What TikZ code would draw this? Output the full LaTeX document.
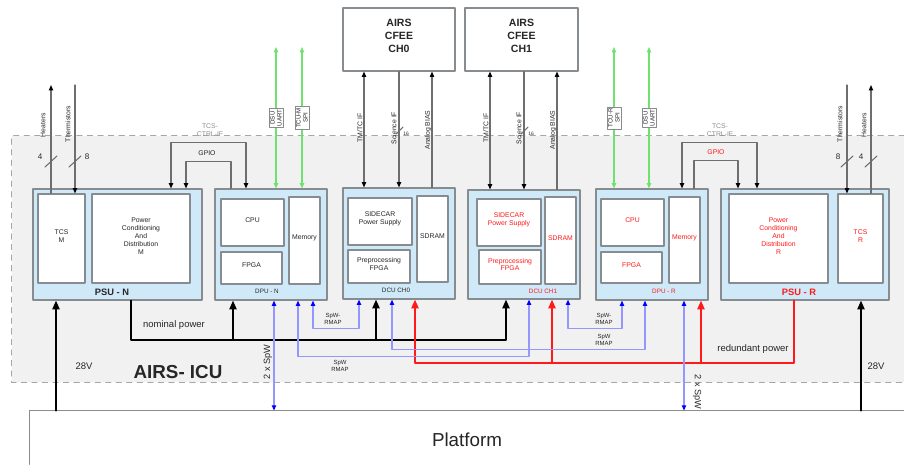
\documentclass[tikz,border=0pt]{standalone}
\usepackage{fontspec}
\setmainfont{Liberation Sans}
\usetikzlibrary{arrows.meta,fit,positioning}

\definecolor{unitblue}{RGB}{207,233,248}
\definecolor{icugray}{RGB}{241,241,241}
\definecolor{rimgray}{RGB}{135,140,145}
\definecolor{wiregray}{RGB}{110,110,110}
\definecolor{spwblue}{RGB}{150,150,255}
\definecolor{linkgreen}{RGB}{110,225,110}
\definecolor{redunt}{RGB}{255,25,25}

\newcommand{\tinyfont}{\fontsize{3.9}{4.5}\selectfont}
\newcommand{\midfont}{\fontsize{5.4}{6.4}\selectfont}

\begin{document}
\begin{tikzpicture}[x=0.02cm, y=-0.02cm, font=\tinyfont, text=black!85, line cap=round, line join=round,
  unit/.style={draw=rimgray, fill=unitblue, line width=0.6pt, inner sep=0pt},
  part/.style={draw=rimgray, fill=white, line width=0.6pt, inner sep=0pt, align=center},
  redpart/.style={part, text=redunt},
  unitname/.style={font=\fontsize{3.6}{4}\selectfont},
  sig/.style={draw=wiregray, line width=0.6pt, >={Triangle[length=3pt,width=2.4pt,color=black]}},
  uart/.style={draw=linkgreen, line width=0.6pt, >={Triangle[length=3pt,width=2.4pt,color=linkgreen]}},
  iflabel/.style={draw=rimgray, fill=white, line width=0.4pt, rotate=90, align=center, inner sep=0.8pt, font=\fontsize{3.5}{4}\selectfont},
  spw/.style={draw=spwblue, line width=0.7pt, >={Triangle[length=3pt,width=2.4pt,color=blue]}},
  pwr/.style={draw=black, line width=1.1pt, >={Triangle[length=5pt,width=4pt]}},
  rpwr/.style={draw=redunt, line width=1.1pt, >={Triangle[length=5pt,width=4pt]}},
  rmap/.style={align=center, font=\fontsize{3.4}{4.1}\selectfont},
]
\useasboundingbox (0,0) rectangle (904,464);
% ICU housing and platform
\node[fill=icugray, inner sep=0pt, fit={(12,136) (904,382)}] (icu) {};
\draw[black!35, dashed, line width=0.6pt] (icu.north east) -- (icu.north west) -- (icu.south west) -- (icu.south east);
\node[fill=white, inner sep=0pt, fit={(30,411) (904,464)}] (plat) {};
\draw[black!45, line width=0.6pt] (plat.north east) -- (plat.north west) -- (plat.south west);
\node[font=\fontsize{10.7}{12}\selectfont] (platname) at (467,440) {Platform};
\node[font=\bfseries\fontsize{10.7}{12}\selectfont] (icuname) at (178,372) {AIRS- ICU};

% front-end electronics
\node[part, font=\bfseries\fontsize{6}{7.5}\selectfont, fit={(343,8) (455,71)}] (cfee0) {AIRS\\CFEE\\CH0};
\node[part, font=\bfseries\fontsize{6}{7.5}\selectfont, fit={(465,8) (578,71)}] (cfee1) {AIRS\\CFEE\\CH1};

% PSU - N
\node[unit, fit={(33,189) (202,300)}] (psuN) {};
\node[part, fit={(38,194) (85,283)}] (tcsM) {TCS\\M};
\node[part, fit={(92,194) (190,283)}] (pcdM) {Power\\Conditioning\\And\\Distribution\\M};
\node[font=\bfseries\fontsize{5.3}{6}\selectfont] (psuNname) at (112,292) {PSU - N};
% DPU - N
\node[unit, fit={(215,189) (327,300)}] (dpuN) {};
\node[part, fit={(221,199) (284,246)}] (cpuN) {CPU};
\node[part, fit={(221,252) (282,284)}] (fpgaN) {FPGA};
\node[part, fit={(289,197) (320,284)}] (memN) {Memory};
\node[unitname] (dpuNname) at (267,291) {DPU - N};
% DCU CH0
\node[unit, fit={(343,188) (455,299)}] (dcu0) {};
\node[part, fit={(348,198) (412,245)}] (sc0) {SIDECAR\\Power Supply};
\node[part, fit={(348,250) (410,283)}] (pp0) {Preprocessing\\FPGA};
\node[part, fit={(417,196) (448,282)}] (sdram0) {SDRAM};
\node[unitname] (dcu0name) at (396,290) {DCU CH0};
% DCU CH1
\node[unit, fit={(468,190) (580,299)}] (dcu1) {};
\node[redpart, fit={(477,199) (541,246)}] (sc1) {SIDECAR\\Power Supply};
\node[redpart, fit={(479,250) (541,284)}] (pp1) {Preprocessing\\FPGA};
\node[redpart, fit={(545,197) (576,284)}] (sdram1) {SDRAM};
\node[unitname, text=redunt] (dcu1name) at (543,291) {DCU CH1};
% DPU - R
\node[unit, fit={(596,189) (708,300)}] (dpuR) {};
\node[redpart, fit={(601,199) (664,246)}] (cpuR) {CPU};
\node[redpart, fit={(601,252) (662,283)}] (fpgaR) {FPGA};
\node[redpart, fit={(669,197) (700,283)}] (memR) {Memory};
\node[unitname, text=redunt] (dpuRname) at (664,291) {DPU - R};
% PSU - R
\node[unit, fit={(721,189) (889,300)}] (psuR) {};
\node[redpart, fit={(729,194) (828,283)}] (pcdR) {Power\\Conditioning\\And\\Distribution\\R};
\node[redpart, fit={(838,194) (883,283)}] (tcsR) {TCS\\R};
\node[font=\bfseries\fontsize{5.3}{6}\selectfont, text=redunt] (psuRname) at (799,292) {PSU - R};

% thermal control
\coordinate (htrM) at (51,85);
\coordinate (thmM) at (75,85);
\coordinate (thmR) at (847,85);
\coordinate (htrR) at (871,85);
\draw[sig,->] (tcsM.north -| htrM) -- (htrM);
\draw[sig,->] (thmM) -- (tcsM.north -| thmM);
\draw[sig,->] (thmR) -- (tcsR.north -| thmR);
\draw[sig,->] (tcsR.north -| htrR) -- (htrR);
\draw[sig] (45,167) -- (57,156) (69,167) -- (81,156) (841,167) -- (853,156) (865,167) -- (877,156);
\node[rotate=90] (htrMname) at (43,125) {Heaters};
\node[rotate=90] (thmMname) at (68,124) {Thermistors};
\node[rotate=90] (thmRname) at (840,124) {Thermistors};
\node[rotate=90] (htrRname) at (864,125) {Heaters};
\node[font=\fontsize{4.6}{5}\selectfont] (nhtrM) at (40,157) {4};
\node[font=\fontsize{4.6}{5}\selectfont] (nthmM) at (87,157) {8};
\node[font=\fontsize{4.6}{5}\selectfont] (nthmR) at (838,157) {8};
\node[font=\fontsize{4.6}{5}\selectfont] (nhtrR) at (861,157) {4};

% TCS-CTRL-IF and GPIO
\draw[sig,<->] (psuN.north -| 171,0) -- ++(0,-46) -| (dpuN.north -| 246,0);
\draw[sig,<-] (psuN.north -| 186,0) -- ++(0,-27) -| (dpuN.north -| 231,0);
\node[text=black!45, align=center] (tcsifN) at (210,130) {TCS-\\CTRL-IF};
\node (gpioN) at (207,153) {GPIO};
\draw[sig,<->] (dpuR.north -| 682,0) -- ++(0,-46) -| (psuR.north -| 757,0);
\draw[sig,->] (dpuR.north -| 694,0) -- ++(0,-28) -| (psuR.north -| 738,0);
\node[text=black!45, align=center] (tcsifR) at (720,130) {TCS-\\CTRL-IF};
\node[text=redunt] (gpioR) at (716,152) {GPIO};

% DSU / TCU links
\coordinate (dsuN) at (276,47);
\coordinate (tcuN) at (302,47);
\coordinate (tcuR) at (614,47);
\coordinate (dsuR) at (649,47);
\draw[uart,<->] (dsuN) -- (dpuN.north -| dsuN);
\draw[uart,<->] (tcuN) -- (dpuN.north -| tcuN);
\draw[uart,<->] (tcuR) -- (dpuR.north -| tcuR);
\draw[uart,<->] (dsuR) -- (dpuR.north -| dsuR);
\node[iflabel] (dsuNname) at (276,118) {DSU\\UART};
\node[iflabel] (tcuNname) at (302,118) {TCU-M\\SPI};
\node[iflabel] (tcuRname) at (614,118) {TCU-R\\SPI};
\node[iflabel] (dsuRname) at (649,118) {DSU\\UART};

% CFEE links
\draw[sig,<->] (cfee0.south -| 364,0) -- (dcu0.north -| 364,0);
\draw[sig,->] (cfee0.south -| 399,0) -- (dcu0.north -| 399,0);
\draw[sig,<-] (cfee0.south -| 432,0) -- (dcu0.north -| 432,0);
\draw[sig,<->] (cfee1.south -| 490,0) -- (dcu1.north -| 490,0);
\draw[sig,->] (cfee1.south -| 524,0) -- (dcu1.north -| 524,0);
\draw[sig,<-] (cfee1.south -| 557,0) -- (dcu1.north -| 557,0);
\draw[sig] (396,134) -- (403,127) (521,134) -- (528,127);
\node[rotate=90] (tm0) at (360,128) {TM/TC IF};
\node[rotate=90] (sci0) at (394,128) {Science IF};
\node[rotate=90] (bias0) at (428,130) {Analog BIAS};
\node[font=\fontsize{2.8}{3}\selectfont] (w0) at (406,134) {16};
\node[rotate=90] (tm1) at (486,128) {TM/TC IF};
\node[rotate=90] (sci1) at (519,128) {Science IF};
\node[rotate=90] (bias1) at (553,130) {Analog BIAS};
\node[font=\fontsize{2.8}{3}\selectfont] (w1) at (531,134) {16};

% power
\coordinate (nombus) at (0,340);
\coordinate (redbus) at (0,363);
\draw[pwr,->] (psuN.south -| 131,0) |- (nombus -| 506,0) -- (dcu1.south -| 506,0);
\draw[pwr,->] (nombus -| 233,0) -- (dpuN.south -| 233,0);
\draw[pwr,->] (nombus -| 376,0) -- (dcu0.south -| 376,0);
\draw[rpwr,->] (psuR.south -| 794,0) |- (redbus -| 415,0) -- (dcu0.south -| 415,0);
\draw[rpwr,->] (redbus -| 552,0) -- (dcu1.south -| 552,0);
\draw[rpwr,->] (redbus -| 701,0) -- (dpuR.south -| 701,0);
\draw[pwr,->] (plat.north -| 56,0) -- (psuN.south -| 56,0);
\draw[pwr,->] (plat.north -| 861,0) -- (psuR.south -| 861,0);
\node[font=\midfont] (nomname) at (174,325) {nominal power};
\node[font=\midfont] (redname) at (753,349) {redundant power};
\node[font=\midfont] (vinN) at (84,366) {28V};
\node[font=\midfont] (vinR) at (876,366) {28V};

% SpaceWire
\draw[spw,<->] (dpuN.south -| 274,0) -- (plat.north -| 274,0);
\draw[spw,<->] (dpuN.south -| 313,0) -- ++(0,28) -| (dcu0.south -| 359,0);
\draw[spw,<->] (dpuN.south -| 298,0) -- ++(0,56) -| (dcu1.south -| 529,0);
\draw[spw,<->] (dcu0.south -| 392,0) -- ++(0,50) -| (dpuR.south -| 645,0);
\draw[spw,<->] (dcu1.south -| 568,0) -- ++(0,29) -| (dpuR.south -| 622,0);
\draw[spw,<->] (dpuR.south -| 684,0) -- (plat.north -| 684,0);
\node[rmap] (rmapA) at (333,319) {SpW-\\RMAP};
\node[rmap] (rmapB) at (340,366) {SpW\\RMAP};
\node[rmap] (rmapC) at (604,340) {SpW\\RMAP};
\node[rmap] (rmapD) at (604,319) {SpW-\\RMAP};
\node[rotate=90, font=\fontsize{5.2}{6}\selectfont] (spwN) at (268,362) {2 x SpW};
\node[rotate=-90, font=\fontsize{5.2}{6}\selectfont] (spwR) at (697,392) {2 x SpW};
\end{tikzpicture}
\end{document}
